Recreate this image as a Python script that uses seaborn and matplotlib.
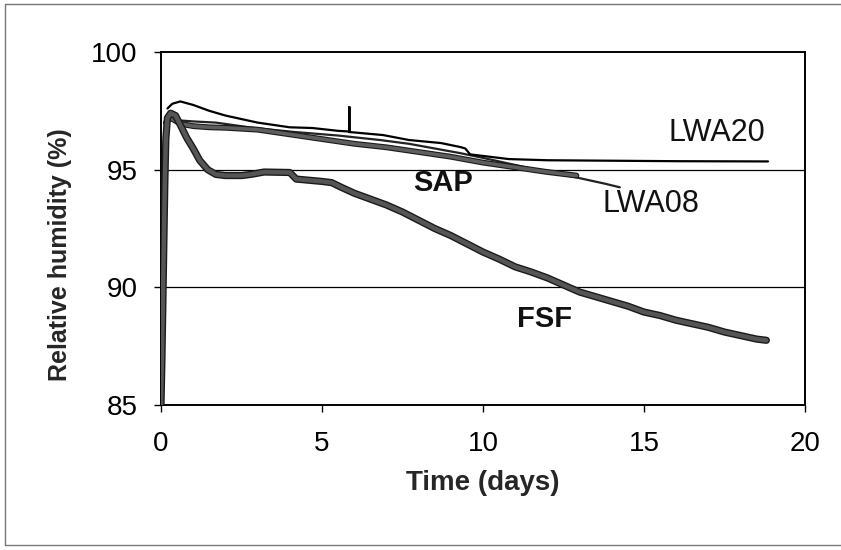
import matplotlib
matplotlib.use("Agg")
import matplotlib.pyplot as plt
import matplotlib.patheffects as pe
from matplotlib.lines import Line2D
import seaborn as sns
import pandas as pd

# ---- data ----
fsf_x = [0.0, 0.03, 0.06, 0.09, 0.12, 0.15, 0.2, 0.3, 0.45, 0.6, 0.8, 1.0, 1.2, 1.45, 1.7,
         2.0, 2.5, 2.8, 3.2, 4.0, 4.2, 5.0, 5.3, 5.6, 6.0, 6.5, 7.0, 7.5, 8.0, 8.5, 9.0,
         9.5, 10.0, 10.5, 11.0, 11.5, 12.0, 12.5, 13.0, 13.5, 14.0, 14.5, 15.0, 15.5,
         16.0, 16.5, 17.0, 17.5, 18.0, 18.5, 18.8]
fsf_y = [85.0, 87.0, 89.5, 92.0, 94.5, 96.3, 97.2, 97.4, 97.3, 96.9, 96.35, 95.9, 95.4,
         95.0, 94.8, 94.75, 94.75, 94.8, 94.9, 94.88, 94.6, 94.5, 94.45, 94.25, 94.0,
         93.75, 93.5, 93.2, 92.85, 92.5, 92.2, 91.85, 91.5, 91.2, 90.87, 90.65, 90.4,
         90.1, 89.8, 89.6, 89.4, 89.2, 88.95, 88.8, 88.6, 88.45, 88.3, 88.1, 87.95,
         87.8, 87.75]

sap_x = [0.15, 0.3, 0.6, 1.0, 1.5, 2.0, 3.0, 4.0, 5.0, 6.0, 7.0, 8.0, 9.0, 10.0, 11.0,
         12.0, 12.9]
sap_y = [97.0, 97.2, 96.95, 96.85, 96.8, 96.78, 96.7, 96.5, 96.3, 96.1, 95.95, 95.75,
         95.55, 95.3, 95.1, 94.9, 94.75]

lwa20_x = [0.2, 0.35, 0.6, 1.0, 1.5, 2.0, 2.5, 3.0, 4.0, 4.7, 5.5, 5.85, 5.85, 5.85, 6.9,
           7.7, 8.7, 9.3, 9.45, 9.6, 10.2, 10.8, 12.0, 14.0, 16.0, 18.85]
lwa20_y = [97.6, 97.8, 97.9, 97.75, 97.5, 97.3, 97.15, 97.0, 96.8, 96.77, 96.65, 96.62,
           97.66, 96.6, 96.47, 96.26, 96.13, 95.96, 95.9, 95.65, 95.55, 95.45, 95.4,
           95.38, 95.36, 95.35]

lwa08_x = [0.3, 0.5, 1.0, 1.7, 2.9, 4.15, 5.5, 6.8, 7.7, 8.5, 9.3, 10.0, 11.0, 12.1,
           12.8, 13.3, 13.8, 14.25]
lwa08_y = [97.25, 97.1, 97.05, 97.0, 96.77, 96.6, 96.45, 96.26, 96.1, 95.9, 95.7, 95.5,
           95.2, 94.85, 94.7, 94.55, 94.4, 94.25]

labels = ["LWA20", "SAP", "LWA08", "FSF"]
label_x = [15.75, 7.83, 13.7, 11.05]
label_y = [96.55, 94.43, 93.53, 88.64]
label_bold = [False, True, False, True]

x_ticks = [0, 5, 10, 15, 20]
y_ticks = [85, 90, 95, 100]

# ---- plot ----
sns.set_theme(style="white")
plt.rcParams['font.family'] = ['Liberation Sans', 'DejaVu Sans']

fig = plt.figure(figsize=(8.41, 5.5), dpi=100)
ax = fig.add_axes([161 / 841, 1 - 405 / 550, (805 - 161) / 841, (405 - 52) / 550])

for yv in [90, 95]:
    ax.axhline(yv, color="black", lw=0.9, zorder=1)

df_lwa20 = pd.DataFrame({"x": lwa20_x, "y": lwa20_y})
df_lwa08 = pd.DataFrame({"x": lwa08_x, "y": lwa08_y})
df_sap = pd.DataFrame({"x": sap_x, "y": sap_y})
df_fsf = pd.DataFrame({"x": fsf_x, "y": fsf_y})

sns.lineplot(data=df_lwa08, x="x", y="y", ax=ax, estimator=None, sort=False,
             color="#222222", lw=1.6, zorder=3)
sns.lineplot(data=df_sap, x="x", y="y", ax=ax, estimator=None, sort=False,
             color="#5e5e5e", lw=2.6, zorder=4,
             path_effects=[pe.Stroke(linewidth=4.2, foreground="#1a1a1a"), pe.Normal()])
sns.lineplot(data=df_lwa20, x="x", y="y", ax=ax, estimator=None, sort=False,
             color="black", lw=1.6, zorder=5)
sns.lineplot(data=df_fsf, x="x", y="y", ax=ax, estimator=None, sort=False,
             color="#555555", lw=3.2, zorder=6,
             path_effects=[pe.Stroke(linewidth=5.2, foreground="#1a1a1a"), pe.Normal()])

for t, xx, yy, b in zip(labels, label_x, label_y, label_bold):
    ax.text(xx, yy, t, fontsize=22 if not b else 21, fontweight="bold" if b else "normal",
            ha="left", va="center", color="#111111", zorder=7)

ax.set_xlim(0, 20)
ax.set_ylim(85, 100)
ax.set_xticks(x_ticks)
ax.set_yticks(y_ticks)
ax.tick_params(axis="both", direction="out", length=5, width=1, colors="black",
               labelsize=20, bottom=True, left=True)
ax.tick_params(axis="y", pad=12)
ax.tick_params(axis="x", pad=14)
for s in ax.spines.values():
    s.set_visible(True)
    s.set_color("black")
    s.set_linewidth(1.4)

ax.set_xlabel("Time (days)", fontsize=20, fontweight="bold")
ax.set_ylabel("Relative humidity (%)", fontsize=18, fontweight="bold")
ax.xaxis.set_label_coords(0.5, -0.184)
ax.yaxis.set_label_coords(-0.138, 0.425)

# outer frame of the chart
for (xs, ys) in [([0.006, 1.0], [0.993, 0.993]), ([0.006, 0.006], [0.009, 0.993]),
                 ([0.006, 1.0], [0.009, 0.009])]:
    fig.add_artist(Line2D(xs, ys, transform=fig.transFigure, color="#777777", lw=1))

fig.savefig("out.png", dpi=100, facecolor="white")
